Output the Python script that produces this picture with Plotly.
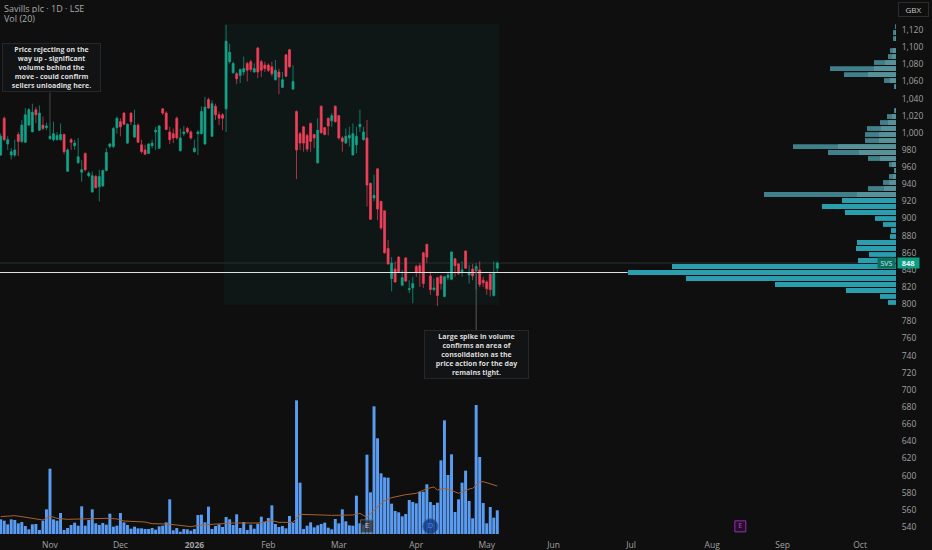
import plotly.graph_objects as go

BG = "#0f0f0f"
UP = "#12a58a"
DOWN = "#f0405a"

opens = [974,1017,987,974,974,998,990,989,1009,1001,
         1027,1003,1009,1006,993,992,992,992,998,955,
         992,985,965,954,976,950,931,949,937,938,
         956,984,984,1006,1013,1023,988,1023,995,1009,
         986,980,976,985,1001,982,1028,1023,1001,999,
         1017,979,999,1005,1001,978,999,999,987,1039,
         996,1031,1021,1021,1028,1083,1070,1069,1067,1071,
         1081,1083,1071,1099,1083,1079,1079,1077,1062,1071,
         1053,1091,1097,1051,1025,999,1007,997,1011,998,
         965,1031,1006,1017,1014,1031,1020,994,988,994,
         974,986,1007,992,994,941,924,958,920,909,
         865,830,841,855,822,854,817,819,844,845,
         860,870,833,817,831,833,809,831,829,853,
         847,838,862,834,841,839,840,828,826,835,
         810,842]
highs = [999,1019,996,982,992,1001,1015,1029,1029,1034,
         1030,1032,1019,1012,1011,1013,1001,1011,999,982,
         994,992,994,968,977,955,955,951,957,957,
         982,988,1007,1019,1017,1024,1011,1024,1027,1011,
         992,986,988,992,1007,1009,1029,1025,1007,1005,
         1019,1005,1008,1007,1003,992,1003,1031,1042,1041,
         1038,1034,1025,1023,1126,1104,1083,1071,1075,1089,
         1083,1085,1081,1100,1085,1083,1081,1083,1085,1075,
         1071,1092,1098,1079,1026,1001,1008,999,1012,999,
         1017,1032,1007,1018,1023,1032,1021,996,1005,1007,
         1011,1007,1027,1007,1015,942,951,958,920,909,
         875,855,850,856,840,855,828,832,846,848,
         861,870,838,830,832,834,833,838,861,854,
         848,850,863,846,847,848,850,832,828,836,
         850,850]
lows = [973,990,980,969,972,973,988,988,1008,1001,
        1011,1002,1003,1003,992,990,991,991,975,955,
        980,980,964,943,955,948,930,935,920,937,
        955,982,982,999,996,1009,987,1009,994,988,
        976,974,975,982,980,981,1021,1003,987,988,
        992,978,996,999,992,977,974,998,986,1028,
        995,1015,1009,1003,1001,1081,1069,1057,1058,1067,
        1060,1071,1070,1064,1065,1071,1071,1066,1061,1045,
        1052,1065,1076,1050,946,980,978,978,978,982,
        964,999,997,997,1007,1012,992,978,987,984,
        974,976,1001,991,914,899,920,898,887,859,
        846,815,825,837,821,826,813,801,832,820,
        819,848,811,815,798,817,808,828,828,832,
        834,832,841,824,828,817,820,820,811,809,
        809,837]
closes = [996,992,992,978,980,990,1009,1021,1027,1024,
          1021,1023,1005,1008,996,999,997,998,978,980,
          989,988,972,957,957,953,950,936,949,956,
          977,987,1005,1017,1007,1010,1010,1013,1009,989,
          978,975,987,988,1003,1008,1023,1004,992,994,
          994,994,1001,1001,994,982,1001,1025,1030,1029,
          1034,1021,1017,1017,1107,1094,1081,1063,1074,1075,
          1073,1074,1075,1071,1073,1075,1073,1069,1073,1065,
          1062,1066,1077,1060,980,988,988,981,990,994,
          1003,1000,998,1008,1020,1013,994,990,996,997,
          999,996,1010,1001,939,899,927,911,889,860,
          847,848,826,838,831,827,818,824,837,838,
          824,855,817,819,810,824,832,834,861,845,
          836,840,842,837,833,844,823,825,818,817,
          836,848]

# volume in thousands
volumes = [44,40,29,44,42,32,36,24,14,29,30,12,40,74,196,44,40,63,12,18,
           27,34,25,83,25,42,74,32,27,33,28,61,22,25,63,35,27,16,22,17,
           17,15,15,18,13,23,25,35,104,11,18,7,15,14,10,15,57,58,35,82,
           15,24,29,21,51,44,27,59,18,36,12,28,16,31,52,36,48,86,30,21,
           24,17,54,34,401,154,15,25,35,20,26,30,34,19,14,45,32,74,38,26,
           25,115,32,28,238,125,383,287,182,170,169,91,69,65,53,60,102,96,92,127,
           127,149,96,87,94,221,341,177,239,66,104,154,190,99,47,387,231,93,32,81,
           49,71]
vol_ma_idx = [0,4,6,9,12,14,16,19,23,26,31,33,35,38,41,43,47,50,54,57,61,66,73,76,
              77,79,83,85,89,94,100,102,104,107,109,111,115,118,121,123,124,126,128,130,133,134,136,137,141]
vol_ma = [52,55,52,46,42,54,47,44,44,46,47,45,39,37,36,31,30,27,22,27,29,33,33,39,
          40,35,35,59,58,56,57,62,50,82,100,109,118,122,136,141,132,137,131,122,135,137,156,157,144]

# volume by price, one row per bin
profile_prices = [802,809,816,823,830,837,844,851,858,865,872,879,886,893,900,907,914,921,928,935,
                  942,949,956,963,970,977,984,991,998,1005,1012,1019,1026,1033,1040,1047,
                  1054,1061,1068,1075,1082,1089,1096,1103,1110,1117,1124]
profile_total = [8,16,50,121,210,268,224,38,27,40,39,6,5,13,21,51,74,54,132,28,
                 13,7,2,7,28,68,103,31,31,29,16,9,2,0,0,0,
                 2,12,52,66,22,8,6,0,3,3,1]
profile_inner = [0,0,0,0,0,0,0,0,0,0,0,0,0,0,0,0,0,0,39,12,
                 7,3,1,4,16,37,58,17,17,15,8,4,1,0,0,0,
                 1,6,28,22,11,4,3,0,1,1,0]

x_tickvals = [14,34,55,76,96,118,138,157,179,202,222,244]
x_ticktext = ["Nov","Dec","<b>2026</b>","Feb","Mar","Apr","May","Jun","Jul","Aug","Sep","Oct"]
y_tickvals = list(range(540, 1121, 20))

event_x = [104, 122, 210]
event_text = ["E", "D", "E"]

idx = list(range(len(opens)))

fig = go.Figure()

fig.add_trace(go.Bar(
    x=idx, y=volumes, yaxis="y2", marker=dict(color="#5a9cf2", line_width=0), width=0.84,
))
fig.add_trace(go.Scatter(
    x=vol_ma_idx, y=vol_ma, yaxis="y2", mode="lines", line=dict(color="#a8622e", width=1),
))
fig.add_trace(go.Candlestick(
    x=idx, open=opens, high=highs, low=lows, close=closes,
    increasing=dict(line=dict(color=UP, width=0.7), fillcolor=UP),
    decreasing=dict(line=dict(color=DOWN, width=0.7), fillcolor=DOWN),
))
colors = ["#3f808a" if p > 925 else "#2a9dae" for p in profile_prices]
fig.add_trace(go.Bar(
    x=profile_total, y=profile_prices, orientation="h", xaxis="x2", width=5.6,
    marker=dict(color=colors, line_width=0),
))
fig.add_trace(go.Bar(
    x=profile_inner, y=profile_prices, orientation="h", xaxis="x2", width=5.6,
    marker=dict(color="#57929a", line_width=0),
))
fig.add_trace(go.Scatter(
    x=event_x[:2], y=[23, 23], yaxis="y2", mode="markers+text", text=event_text[:2],
    textposition="middle center", textfont=dict(size=8, color=["#d0d0d0", "#4a7df0"], family="Open Sans"),
    marker=dict(symbol=["square", "circle"], size=[13, 15], color=["#2a2a2a", "#0c2f6e"],
                line=dict(color=["#777777", "#1d4fb0"], width=1)),
))
fig.add_trace(go.Scatter(
    x=event_x[2:], y=[23], yaxis="y2", mode="markers+text", text=event_text[2:],
    textposition="middle center", textfont=dict(size=7, color="#c040d0", family="Open Sans"),
    marker=dict(symbol="square", size=11, color="#241028", line=dict(color="#9a2bb0", width=1)),
))

fig.add_shape(type="rect", x0=63.4, x1=141.6, y0=799, y1=1127, layer="below",
              fillcolor="#0e1616", line_width=0)
fig.add_shape(type="line", x0=-1, x1=255, y0=848, y1=848, layer="below",
              line=dict(color="#26332f", width=1))
fig.add_shape(type="line", x0=-1, x1=178, y0=837, y1=837, layer="above",
              line=dict(color="#e0e0e0", width=1.2))
fig.add_shape(type="line", x0=14, x1=14, y0=1010, y1=1047, layer="below",
              line=dict(color="#4a4a4a", width=1))
fig.add_shape(type="line", x0=135, x1=135, y0=770, y1=842, layer="above",
              line=dict(color="#5a5a5a", width=1))

note = dict(showarrow=False, bgcolor="#121314", bordercolor="#25272b", borderwidth=1, borderpad=0,
            font=dict(size=7, color="#dcdcdc", family="Open Sans"), align="center", height=47)
fig.add_annotation(x=14.4, y=1076, width=97,
                   text="<b>Price rejecting on the<br>way up - significant<br>volume behind the<br>"
                        "move - could confirm<br>sellers unloading here.</b>", **note)
fig.add_annotation(x=135, y=741, width=103,
                   text="<b>Large spike in volume<br>confirms an area of<br>consolidation as the<br>"
                        "price action for the day<br>remains tight.</b>", **note)

title_font = dict(size=9, color="#a8a8a8", family="Open Sans")
fig.add_annotation(xref="paper", yref="paper", x=0.003, y=0.984, xanchor="left", yanchor="middle",
                   text="Savills plc · 1D · LSE", showarrow=False, borderpad=0, height=9, font=title_font)
fig.add_annotation(xref="paper", yref="paper", x=0.003, y=0.965, xanchor="left", yanchor="middle",
                   text="Vol (20)", showarrow=False, borderpad=0, height=9, font=title_font)
fig.add_annotation(xref="paper", yref="y", x=1.0, y=848, xanchor="right", yanchor="middle",
                   text="SVS", showarrow=False, bgcolor="#0d6f62", borderpad=0, width=17, height=10,
                   font=dict(size=7, color="#cfeee8", family="Open Sans"))
fig.add_annotation(xref="paper", yref="y", x=1.0012, y=848, xanchor="left", yanchor="middle",
                   text="<b>848</b>", showarrow=False, bgcolor="#0f9d84", borderpad=0, width=21, height=10,
                   font=dict(size=7.5, color="#e8f5f2", family="Open Sans"))
fig.add_annotation(xref="paper", yref="paper", x=1.0368, y=0.982, xanchor="right", yanchor="middle",
                   text="GBX", showarrow=False, bgcolor=BG, bordercolor="#2c2c2c", borderwidth=1, borderpad=0,
                   width=29, height=13, font=dict(size=8, color="#c4c4c4", family="Open Sans"))

fig.update_layout(
    width=932, height=550, margin=dict(l=0, r=36, t=0, b=16), autosize=False,
    paper_bgcolor=BG, plot_bgcolor=BG, showlegend=False, barmode="overlay", boxgap=0.2,
    font=dict(family="Open Sans", color="#9c9c9c", size=9),
    xaxis=dict(range=[-0.19, 254.2], rangeslider_visible=False, tickvals=x_tickvals, ticktext=x_ticktext,
               showgrid=False, zeroline=False, showline=False, ticks="outside", ticklen=3, tickcolor=BG,
               tickfont=dict(size=8.5, color="#a0a0a0")),
    xaxis2=dict(range=[896, 0], overlaying="x", side="top", visible=False),
    yaxis=dict(range=[531.8, 1155], side="right", tickvals=y_tickvals, tickformat=",d", showgrid=False,
               zeroline=False, showline=False, ticks="outside", ticklen=3, tickcolor=BG,
               tickfont=dict(size=8.5, color="#a0a0a0")),
    yaxis2=dict(range=[0, 1602], overlaying="y", visible=False),
)

fig.write_html("out.html", config={"displayModeBar": False},
               post_script="document.body.style.margin='0';document.body.style.background='#0f0f0f';")
